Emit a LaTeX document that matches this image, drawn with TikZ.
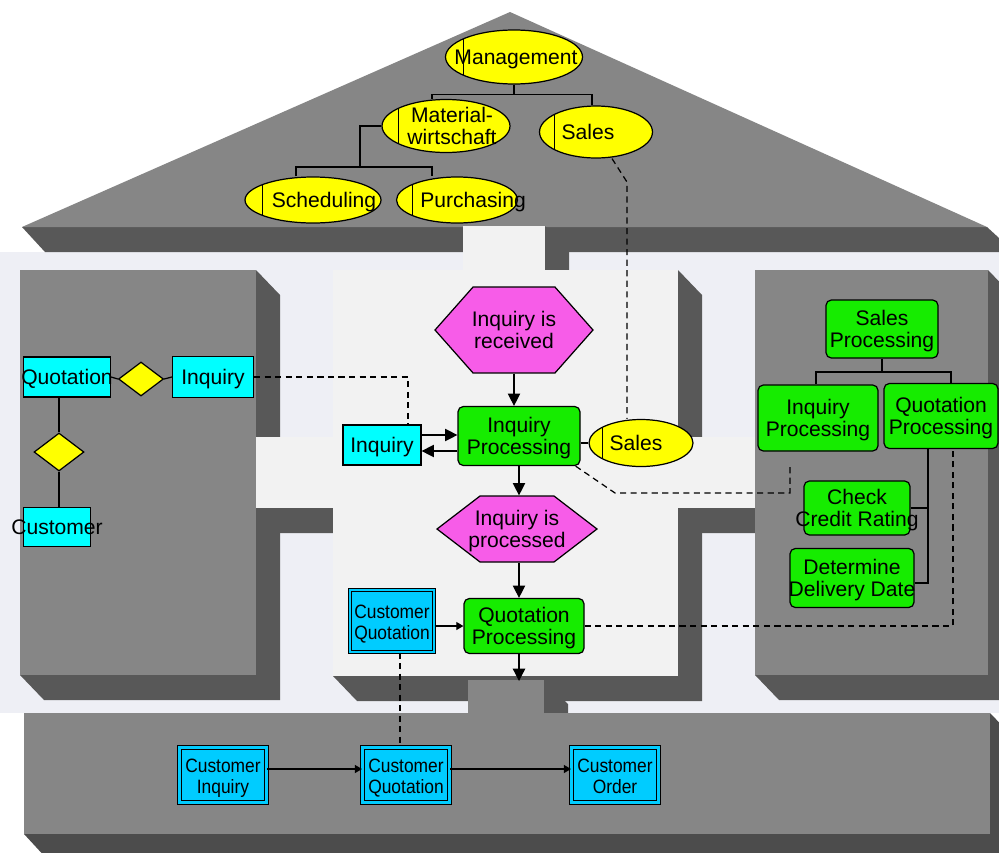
\documentclass[tikz,border=0pt]{standalone}
\usepackage{fontspec}
\setmainfont{Liberation Sans}
\newfontfamily\narrowfont[FakeStretch=0.9]{Liberation Sans}
\usetikzlibrary{shapes.geometric,shapes.symbols,arrows.meta,calc}

\definecolor{orgyellow}{RGB}{255,255,0}
\definecolor{funcgreen}{RGB}{22,236,0}
\definecolor{evpink}{RGB}{247,92,232}
\definecolor{entcyan}{RGB}{0,255,255}
\definecolor{clsblue}{RGB}{0,204,255}
\definecolor{facegray}{RGB}{134,134,134}
\definecolor{shadowgray}{RGB}{88,88,88}
\definecolor{basegray}{RGB}{76,76,76}
\definecolor{panelgray}{RGB}{242,242,242}
\definecolor{bglight}{RGB}{238,239,245}

% fixed-size label: text may run over the box
\newcommand\nodetext[2][0pt]{\makebox[0pt]{\hspace*{#1}\smash{\raisebox{-4.7pt}{\begin{tabular}{@{}c@{}}#2\end{tabular}}}}}

\tikzset{
  every node/.style={font=\fontsize{12}{13}\selectfont, inner sep=0pt},
  orgunit/.style={ellipse, draw, fill=orgyellow, line width=0.7pt,
    path picture={\draw[line width=0.7pt]
      ($(path picture bounding box.south west)!0.13!(path picture bounding box.south east)$) --
      ($(path picture bounding box.north west)!0.13!(path picture bounding box.north east)$);}},
  func/.style={rectangle, rounded corners=3pt, draw, fill=funcgreen, line width=0.7pt},
  event/.style={signal, signal to=east and west, draw, fill=evpink, line width=0.7pt},
  entity/.style={rectangle, draw, fill=entcyan, line width=0.7pt},
  relship/.style={diamond, draw, fill=orgyellow, line width=0.7pt},
  infobj/.style={rectangle, draw, fill=clsblue, double=clsblue, double distance=1.6pt,
    line width=0.6pt, font=\narrowfont\fontsize{11}{12}\selectfont},
  link/.style={line width=0.7pt},
  arr/.style={line width=0.7pt, -{Triangle[length=7pt,width=7pt]}},
  smallarr/.style={line width=0.7pt, -{Triangle[length=4pt,width=4.5pt]}},
  assign/.style={line width=0.7pt, dash pattern=on 3.5pt off 2.5pt},
}

\begin{document}
\begin{tikzpicture}[x=0.02cm, y=-0.02cm]
  \useasboundingbox (0,0) rectangle (999,852);
  \clip (0,0) rectangle (999,852);

  % background
  \fill[white] (0,0) rectangle (999,852);
  \fill[bglight] (0,252) rectangle (999,713);

  % roof
  \fill[shadowgray] (22,227) -- (987,227) -- (999,238) -- (999,252) -- (45,252) -- cycle;
  \fill[facegray] (22,227) -- (510,12) -- (987,227) -- cycle;
  \fill[shadowgray] (545,226) -- (569,251) -- (569,270) -- (545,270) -- cycle;

  % shadows of pillars and middle panel
  \fill[shadowgray] (20,270) -- (256,270) -- (280,295) -- (280,700) -- (44,700) -- (20,675) -- cycle;
  \fill[shadowgray] (755,270) -- (988,270) -- (1012,295) -- (1012,700) -- (779,700) -- (755,675) -- cycle;
  \fill[shadowgray] (333,270) -- (678,270) -- (702,295) -- (702,701) -- (357,701) -- (333,676) -- cycle;
  \fill[shadowgray] (256,437) -- (755,437) -- (779,462) -- (779,533) -- (280,533) -- (256,508) -- cycle;

  % faces
  \fill[panelgray] (333,270) rectangle (678,676);
  \fill[panelgray] (256,437) rectangle (755,508);
  \fill[panelgray] (463,226) rectangle (545,270);
  \fill[facegray] (20,270) rectangle (256,675);
  \fill[facegray] (755,270) rectangle (988,675);

  % foundation
  \fill[shadowgray] (544,680) -- (568,704) -- (568,713) -- (544,713) -- cycle;
  \fill[facegray] (468,680) rectangle (544,713);
  \fill[basegray] (24,713) -- (990,713) -- (1014,738) -- (1014,860) -- (48,860) -- (24,834) -- cycle;
  \fill[facegray] (24,713) rectangle (990,834);

  % organisation chart
  \node[orgunit, minimum width=2.74cm, minimum height=1.08cm] (mgmt) at (514,57) {\nodetext[0.08cm]{Management}};
  \node[orgunit, minimum width=2.56cm, minimum height=1.06cm] (mat) at (446,126) {\nodetext[0.24cm]{Material-\\wirtschaft}};
  \node[orgunit, minimum width=2.26cm, minimum height=1.04cm] (salesr) at (596,132) {\nodetext[-0.32cm]{Sales}};
  \node[orgunit, minimum width=2.72cm, minimum height=0.92cm] (sched) at (313,200) {\nodetext[0.44cm]{Scheduling}};
  \node[orgunit, minimum width=2.42cm, minimum height=0.92cm] (purch) at (457,200) {\nodetext[0.64cm]{Purchasing}};

  \draw[link] (mgmt.south) -- ++(0,10) coordinate (mgmtj);
  \draw[link] ([xshift=-0.28cm]mat.north) |- (mgmtj) -| ([xshift=-0.08cm]salesr.north);
  \coordinate (matj) at (360,167);
  \draw[link] (mat.west) -| (matj);
  \draw[link] ([xshift=-0.34cm]sched.north) |- (matj) -| ([xshift=-0.5cm]purch.north);

  % process chain
  \node[event, signal pointer angle=97, minimum width=3.16cm, minimum height=1.72cm] (evrec) at (514,330) {\nodetext{Inquiry is\\received}};
  \node[func, minimum width=2.44cm, minimum height=1.18cm] (ipc) at (519,436) {\nodetext{Inquiry\\Processing}};
  \node[entity, minimum width=1.56cm, minimum height=0.8cm] (inqc) at (382,445) {\nodetext{Inquiry}};
  \node[orgunit, minimum width=2.08cm, minimum height=0.94cm] (salesc) at (641,443) {\nodetext[-0.2cm]{Sales}};
  \node[event, signal pointer angle=75, minimum width=3.2cm, minimum height=1.32cm] (evproc) at (517,529) {\nodetext{Inquiry is\\processed}};
  \node[func, minimum width=2.4cm, minimum height=1.1cm] (qpc) at (524,626) {\nodetext{Quotation\\Processing}};
  \node[infobj, minimum width=1.68cm, minimum height=1.24cm] (cqc) at (392,621) {\nodetext{Customer\\Quotation}};
  \coordinate (qpout) at (519,681);

  \draw[arr] (evrec.south) -- (evrec.south |- ipc.north);
  \draw[arr] ([yshift=0.2cm]inqc.east) -- ([yshift=0.2cm]inqc.east -| ipc.west);
  \draw[arr] ([yshift=-0.12cm]inqc.east -| ipc.west) -- ([yshift=-0.12cm]inqc.east);
  \draw[link] (salesc.west -| ipc.east) -- (salesc.west);
  \draw[arr] (ipc.south) -- (ipc.south |- evproc.north);
  \draw[arr] (evproc.south -| ipc.south) -- (ipc.south |- qpc.north);
  \draw[smallarr] (qpc.west -| cqc.east) -- (qpc.west);
  \draw[arr] (qpout |- qpc.south) -- (qpout);

  % data model
  \node[entity, minimum width=1.74cm, minimum height=0.8cm] (quot) at (67,377) {\nodetext{Quotation}};
  \node[relship, minimum width=0.9cm, minimum height=0.68cm] (rel1) at (141,379) {};
  \node[entity, minimum width=1.62cm, minimum height=0.82cm] (inql) at (213,377) {\nodetext{Inquiry}};
  \node[relship, minimum width=1.0cm, minimum height=0.76cm] (rel2) at (59,452) {};
  \node[entity, minimum width=1.34cm, minimum height=0.78cm] (cust) at (57,527) {\nodetext{Customer}};

  \draw[link] (quot.east) -- (rel1.west);
  \draw[link] (rel1.east) -- (inql.west);
  \draw[link] (rel2.north |- quot.south) -- (rel2.north);
  \draw[link] (rel2.south) -- (rel2.south |- cust.north);

  % function tree
  \node[func, minimum width=2.24cm, minimum height=1.16cm] (sp) at (882,329) {\nodetext{Sales\\Processing}};
  \node[func, minimum width=2.4cm, minimum height=1.32cm] (ipr) at (818,418) {\nodetext{Inquiry\\Processing}};
  \node[func, minimum width=2.28cm, minimum height=1.3cm] (qpr) at (941,416) {\nodetext{Quotation\\Processing}};
  \node[func, minimum width=2.12cm, minimum height=1.08cm] (ccr) at (857,508) {\nodetext{Check\\Credit Rating}};
  \node[func, minimum width=2.48cm, minimum height=1.18cm] (ddd) at (852,578) {\nodetext{Determine\\Delivery Date}};

  \coordinate (spj) at (882,372);
  \draw[link] (sp.south) -- (spj);
  \draw[link] ([xshift=-0.04cm]ipr.north) |- (spj) -| ([xshift=0.2cm]qpr.north);
  \draw[link] (ccr.east) -| ([xshift=-0.26cm]qpr.south);
  \draw[link] ([yshift=-0.1cm]ddd.east) -| ([xshift=-0.26cm]qpr.south);

  % output
  \node[infobj, minimum width=1.74cm, minimum height=1.1cm] (cinq) at (223,775) {\nodetext{Customer\\Inquiry}};
  \node[infobj, minimum width=1.74cm, minimum height=1.1cm] (cquo) at (406,775) {\nodetext{Customer\\Quotation}};
  \node[infobj, minimum width=1.74cm, minimum height=1.1cm] (cord) at (615,775) {\nodetext{Customer\\Order}};

  \draw[smallarr] ([yshift=0.12cm]cinq.east) -- ([yshift=0.12cm]cquo.west);
  \draw[smallarr] ([yshift=0.12cm]cquo.east) -- ([yshift=0.12cm]cord.west);

  % assignments
  \coordinate (salesbend) at (627,182);
  \coordinate (ipbend) at (615,493);
  \coordinate (ipend) at (790,465);
  \draw[assign] ([xshift=0.32cm]salesr.south) -- (salesbend) -- (salesbend |- salesc.north);
  \draw[assign] (inql.east) -| ([xshift=0.52cm]inqc.north);
  \draw[assign] ([xshift=-0.1cm]ipc.south east) -- (ipbend) -| (ipend);
  \draw[assign] (qpc.east) -| ([xshift=0.24cm]qpr.south);
  \draw[assign] ([xshift=0.16cm]cqc.south) -- ([xshift=0.16cm]cqc.south |- cquo.north);
\end{tikzpicture}
\end{document}
